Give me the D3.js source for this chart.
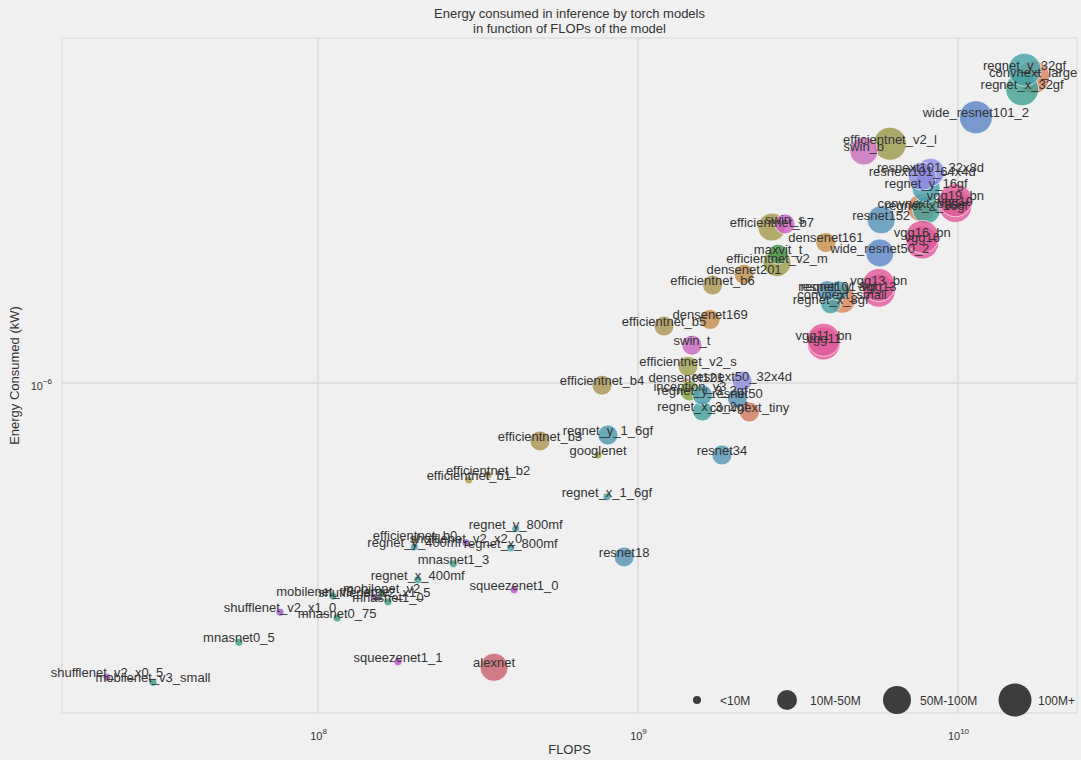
<!DOCTYPE html>
<html>
<head>
<meta charset="utf-8">
<script src="https://cdn.jsdelivr.net/npm/d3@7"></script>
<style>
  body { margin: 0; background: #f0f0f0; }
  svg text { font-family: "Liberation Sans", Arial, Helvetica, sans-serif; }
</style>
</head>
<body>
<svg id="chart" width="1081" height="760"></svg>
<script>
// Torchvision models: inference FLOPs vs energy consumed per inference
const models = [
  "alexnet", "convnext_base", "convnext_large", "convnext_small", "convnext_tiny",
  "densenet121", "densenet161", "densenet169", "densenet201",
  "efficientnet_b0", "efficientnet_b1", "efficientnet_b2", "efficientnet_b3",
  "efficientnet_b4", "efficientnet_b5", "efficientnet_b6", "efficientnet_b7",
  "efficientnet_v2_l", "efficientnet_v2_m", "efficientnet_v2_s",
  "googlenet", "inception_v3", "maxvit_t",
  "mnasnet0_5", "mnasnet0_75", "mnasnet1_0", "mnasnet1_3",
  "mobilenet_v2", "mobilenet_v3_large", "mobilenet_v3_small",
  "regnet_x_16gf", "regnet_x_1_6gf", "regnet_x_32gf", "regnet_x_3_2gf",
  "regnet_x_400mf", "regnet_x_800mf", "regnet_x_8gf",
  "regnet_y_16gf", "regnet_y_1_6gf", "regnet_y_32gf", "regnet_y_3_2gf",
  "regnet_y_400mf", "regnet_y_800mf", "regnet_y_8gf",
  "resnet101", "resnet152", "resnet18", "resnet34", "resnet50",
  "resnext101_32x8d", "resnext101_64x4d", "resnext50_32x4d",
  "shufflenet_v2_x0_5", "shufflenet_v2_x1_0", "shufflenet_v2_x1_5", "shufflenet_v2_x2_0",
  "squeezenet1_0", "squeezenet1_1",
  "swin_b", "swin_s", "swin_t",
  "vgg11", "vgg11_bn", "vgg13", "vgg13_bn", "vgg16", "vgg16_bn", "vgg19", "vgg19_bn",
  "wide_resnet101_2", "wide_resnet50_2"
];

const flops = [
  3.55e8, 7.68e9, 1.718e10, 4.34e9, 2.23e9,
  1.415e9, 3.865e9, 1.68e9, 2.145e9,
  2.01e8, 2.96e8, 3.40e8, 4.94e8,
  7.72e8, 1.206e9, 1.71e9, 2.62e9,
  6.13e9, 2.72e9, 1.433e9,
  7.5e8, 1.454e9, 2.74e9,
  5.66e7, 1.147e8, 1.655e8, 2.65e8,
  1.58e8, 1.114e8, 3.05e7,
  7.97e9, 8.0e8, 1.587e10, 1.59e9,
  2.05e8, 4.0e8, 4.0e9,
  7.955e9, 8.05e8, 1.614e10, 1.59e9,
  2.0e8, 4.15e8, 4.235e9,
  3.9e9, 5.755e9, 9.05e8, 1.83e9, 2.045e9,
  8.205e9, 7.73e9, 2.115e9,
  2.19e7, 7.61e7, 1.5e8, 2.9e8,
  4.1e8, 1.778e8,
  5.08e9, 2.88e9, 1.475e9,
  3.805e9, 3.805e9, 5.655e9, 5.655e9, 7.735e9, 7.735e9, 9.815e9, 9.815e9,
  1.1375e10, 5.7e9
];

const energy = [
  2.70e-7, 2.24e-6, 4.09e-6, 1.47e-6, 8.75e-7,
  1.005e-6, 1.91e-6, 1.34e-6, 1.65e-6,
  4.85e-7, 6.40e-7, 6.55e-7, 7.66e-7,
  9.9e-7, 1.30e-6, 1.57e-6, 2.05e-6,
  3.01e-6, 1.74e-6, 1.08e-6,
  7.18e-7, 9.64e-7, 1.81e-6,
  3.03e-7, 3.39e-7, 3.65e-7, 4.35e-7,
  3.80e-7, 3.75e-7, 2.52e-7,
  2.22e-6, 5.92e-7, 3.87e-6, 8.79e-7,
  4.04e-7, 4.68e-7, 1.44e-6,
  2.45e-6, 7.87e-7, 4.23e-6, 9.46e-7,
  4.70e-7, 5.11e-7, 1.53e-6,
  1.53e-6, 2.12e-6, 4.49e-7, 7.18e-7, 9.33e-7,
  2.64e-6, 2.59e-6, 1.009e-6,
  2.58e-7, 3.48e-7, 3.73e-7, 4.79e-7,
  3.86e-7, 2.77e-7,
  2.91e-6, 2.08e-6, 1.19e-6,
  1.20e-6, 1.22e-6, 1.53e-6, 1.57e-6, 1.91e-6, 1.96e-6, 2.26e-6, 2.32e-6,
  3.40e-6, 1.82e-6
];

// Number of parameters, binned
const paramClass = [
  "50M-100M", "50M-100M", "100M+", "50M-100M", "10M-50M",
  "<10M", "10M-50M", "10M-50M", "10M-50M",
  "<10M", "<10M", "<10M", "10M-50M",
  "10M-50M", "10M-50M", "10M-50M", "50M-100M",
  "100M+", "50M-100M", "10M-50M",
  "<10M", "10M-50M", "10M-50M",
  "<10M", "<10M", "<10M", "<10M",
  "<10M", "<10M", "<10M",
  "50M-100M", "<10M", "100M+", "10M-50M",
  "<10M", "<10M", "10M-50M",
  "50M-100M", "10M-50M", "100M+", "10M-50M",
  "<10M", "<10M", "10M-50M",
  "10M-50M", "50M-100M", "10M-50M", "10M-50M", "10M-50M",
  "50M-100M", "50M-100M", "10M-50M",
  "<10M", "<10M", "<10M", "<10M",
  "<10M", "<10M",
  "50M-100M", "10M-50M", "10M-50M",
  "100M+", "100M+", "100M+", "100M+", "100M+", "100M+", "100M+", "100M+",
  "100M+", "50M-100M"
];

const sizeClasses = ["<10M", "10M-50M", "50M-100M", "100M+"];
const xTickValues = [1e8, 1e9, 1e10];
const xTickExponents = ["8", "9", "10"];
const yTickValues = [1e-6];
const yTickExponents = ["\u22126"];

// one colour per model, grouped by family
const modelColors = [
  "#c8606c", "#d98458", "#d9825f", "#d9865e", "#d27a5e",
  "#bf904a", "#c99048", "#c58c4c", "#c4904c",
  "#b09a4e", "#b09650", "#ad9550", "#ac9452",
  "#aa9452", "#a99552", "#a99752", "#a69a50",
  "#9c9a4c", "#9a9c48", "#a0a050",
  "#9ea044", "#88a040", "#4c9a50",
  "#40a07a", "#3e9a78", "#3f9c7a", "#3f9c80",
  "#3f9c88", "#3f9a8a", "#3f9c8c",
  "#42a098", "#48a0a4", "#42a092", "#45a0a0",
  "#45a0a2", "#45a0a6", "#45a0a4",
  "#4a9fae", "#4d9ab0", "#48a3ab", "#4ba0ae",
  "#4aa0ac", "#4aa0ac", "#4aa0ae",
  "#5592b8", "#5592b8", "#5594b4", "#5596b4", "#5592b6",
  "#8c8ce6", "#8c8ae2", "#8c8ce0",
  "#a45cc4", "#9a5bc0", "#9a5bc0", "#9a5bc0",
  "#b050c0", "#b850c0",
  "#c86cbc", "#d060c4", "#c868c0",
  "#e05a9e", "#e05a9a", "#e05a9e", "#e05a9a", "#e05a9e", "#e05a9a", "#e05a9e", "#e05a9a",
  "#5b86c6", "#5b88c8"
];

const W = 1081, H = 760;
const margin = { left: 62, right: 1077, top: 38, bottom: 713 };

const svg = d3.select("#chart");
svg.append("rect").attr("width", W).attr("height", H).attr("fill", "#f0f0f0");

const x = d3.scaleLog()
  .domain([Math.pow(10, 7.2), Math.pow(10, 10.372)])
  .range([margin.left, margin.right]);
const y = d3.scaleLog()
  .domain([Math.pow(10, -6.66), Math.pow(10, -5.31)])
  .range([margin.bottom, margin.top]);
const radius = d3.scaleOrdinal().domain(sizeClasses).range([4, 10, 14, 16.5]);

// axes frame
svg.append("rect")
  .attr("x", margin.left).attr("y", margin.top)
  .attr("width", margin.right - margin.left)
  .attr("height", margin.bottom - margin.top)
  .attr("fill", "#f0f0f0")
  .attr("stroke", "#dcdcdc").attr("stroke-width", 1.2);

// grid lines
const grid = svg.append("g");
grid.selectAll("line.vx").data(xTickValues).join("line")
  .attr("x1", d => x(d)).attr("x2", d => x(d))
  .attr("y1", margin.top).attr("y2", margin.bottom)
  .attr("stroke", "#d9d9d9").attr("stroke-width", 1.5);
grid.selectAll("line.hy").data(yTickValues).join("line")
  .attr("y1", d => y(d)).attr("y2", d => y(d))
  .attr("x1", margin.left).attr("x2", margin.right)
  .attr("stroke", "#d9d9d9").attr("stroke-width", 1.5);

// x axis (labels only, no tick marks)
const xAxis = d3.axisBottom(x).tickValues(xTickValues).tickSize(0).tickFormat(() => "");
const gx = svg.append("g").attr("transform", `translate(0,${margin.bottom})`).call(xAxis);
gx.select(".domain").remove();
gx.selectAll(".tick").each(function(d, i) {
  const t = d3.select(this).append("text")
    .attr("y", 27).attr("fill", "#333").attr("font-size", 11)
    .attr("text-anchor", "middle");
  t.append("tspan").text("10");
  t.append("tspan").attr("dy", -6).attr("font-size", 8).text(xTickExponents[i]);
});

// y axis
const yAxis = d3.axisLeft(y).tickValues(yTickValues).tickSize(0).tickFormat(() => "");
const gy = svg.append("g").attr("transform", `translate(${margin.left},0)`).call(yAxis);
gy.select(".domain").remove();
gy.selectAll(".tick").each(function(d, i) {
  const t = d3.select(this).append("text")
    .attr("x", -10).attr("y", 6).attr("fill", "#333").attr("font-size", 11)
    .attr("text-anchor", "end");
  t.append("tspan").text("10");
  t.append("tspan").attr("dy", -6).attr("font-size", 8).text(yTickExponents[i]);
});

// axis titles and chart title
svg.append("text").attr("x", (margin.left + margin.right) / 2).attr("y", 754)
  .attr("text-anchor", "middle").attr("font-size", 13).attr("fill", "#333").text("FLOPS");
svg.append("text")
  .attr("transform", `translate(19,${(margin.top + margin.bottom) / 2}) rotate(-90)`)
  .attr("text-anchor", "middle").attr("font-size", 13).attr("fill", "#333")
  .text("Energy Consumed (kW)");
const title = svg.append("text").attr("text-anchor", "middle")
  .attr("font-size", 13).attr("fill", "#333");
title.append("tspan").attr("x", (margin.left + margin.right) / 2).attr("y", 18)
  .text("Energy consumed in inference by torch models");
title.append("tspan").attr("x", (margin.left + margin.right) / 2).attr("y", 33)
  .text("in function of FLOPs of the model");

// points
const rows = models.map((m, i) => ({
  name: m, flops: flops[i], energy: energy[i], size: paramClass[i], color: modelColors[i]
}));

svg.append("g").selectAll("circle").data(rows).join("circle")
  .attr("cx", d => x(d.flops)).attr("cy", d => y(d.energy))
  .attr("r", d => radius(d.size))
  .attr("fill", d => d.color).attr("fill-opacity", 0.82)
  .attr("stroke", "#ffffff").attr("stroke-width", 0.8).attr("stroke-opacity", 0.8);

svg.append("g").selectAll("text").data(rows).join("text")
  .attr("x", d => x(d.flops)).attr("y", d => y(d.energy))
  .attr("text-anchor", "middle").attr("font-size", 13).attr("fill", "#333")
  .text(d => d.name);

// size legend
const legendX = [697, 787, 897, 1015];
const legend = svg.append("g").selectAll("g").data(sizeClasses).join("g")
  .attr("transform", (d, i) => `translate(${legendX[i]},700)`);
legend.append("circle").attr("r", d => radius(d)).attr("fill", "#333").attr("fill-opacity", 0.95);
legend.append("text").attr("x", 23).attr("y", 4.5).attr("font-size", 12).attr("fill", "#333")
  .text(d => d);
</script>
</body>
</html>
